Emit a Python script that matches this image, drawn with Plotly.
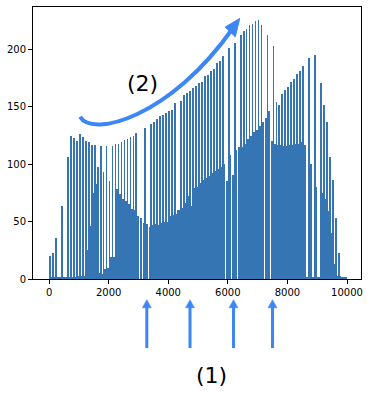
import plotly.graph_objects as go

# ---- data, one value per 100-unit period ----
period_start = list(range(0, 10000, 100))

tall = [20, 23, 36, 0, 64, 0, 106, 125, 123, 120,
        126, 124, 120, 119, 117, 117, 98, 116, 93, 116,
        85, 116, 118, 118, 119, 121, 122, 124, 125, 127,
        0, 0, 132, 0, 135, 137, 139, 142, 143, 145,
        146, 147, 153, 0, 155, 160, 162, 164, 166, 168,
        171, 172, 177, 178, 181, 183, 188, 190, 194, 0,
        201, 0, 206, 0, 213, 216, 218, 221, 222, 225,
        226, 221, 0, 213, 0, 203, 154, 152, 161, 165,
        167, 172, 174, 179, 181, 186, 0, 193, 0, 195,
        0, 171, 152, 137, 106, 86, 53, 23, 0, 0]

mid = [0, 0, 0, 0, 0, 0, 0, 0, 0, 0,
       0, 0, 25, 46, 75, 83, 5, 4, 9, 10,
       19, 19, 78, 74, 70, 68, 65, 61, 60, 55,
       53, 49, 48, 45, 47, 48, 47, 49, 50, 50,
       55, 56, 57, 60, 62, 66, 72, 64, 79, 80,
       84, 86, 88, 90, 92, 94, 96, 98, 100, 85,
       108, 91, 112, 115, 115, 118, 122, 125, 128, 130,
       133, 137, 140, 146, 120, 118, 117, 117, 116, 116,
       117, 117, 118, 118, 119, 117, 0, 100, 0, 80,
       0, 75, 70, 59, 40, 13, 3, 2, 2, 0]

base = [1, 2, 1, 1, 1, 1, 2, 2, 2, 3,
        3, 3, 3, 3, 4, 4, 5, 3, 2, 2,
        2, 14, 25, 21, 38, 30, 50, 37, 58, 47,
        0, 0, 0, 0, 0, 8, 12, 24, 38, 50,
        55, 56, 57, 60, 62, 0, 0, 0, 0, 73,
        73, 74, 74, 75, 75, 76, 77, 78, 79, 0,
        0, 0, 0, 0, 87, 88, 89, 91, 93, 95,
        98, 102, 0, 0, 0, 0, 112, 113, 74, 45,
        22, 8, 2, 2, 2, 1, 2, 2, 1, 2,
        2, 2, 2, 2, 2, 2, 3, 3, 2, 1]

x_ticks = [0, 2000, 4000, 6000, 8000, 10000]
y_ticks = [0, 50, 100, 150, 200]

label_top = "(2)"
label_bottom = "(1)"
arrow_marks = [3280, 4730, 6190, 7500]

BAR = "#3675b4"
ARROW = "#3d86f5"

fig = go.Figure()
fig.add_trace(go.Bar(x=[s + 50 for s in period_start], y=base, width=90,
                     marker=dict(color=BAR, line=dict(width=0)), hoverinfo="skip"))
fig.add_trace(go.Bar(x=[s + 80 for s in period_start], y=mid, width=26,
                     marker=dict(color=BAR, line=dict(width=0)), hoverinfo="skip"))
fig.add_trace(go.Bar(x=[s + 30 for s in period_start], y=tall, width=26,
                     marker=dict(color=BAR, line=dict(width=0)), hoverinfo="skip"))

shapes = []
# curved arrow (2)
shapes.append(dict(type="path", xref="x", yref="y",
                   path="M 1040,141.3 C 1443,123 4060,140.4 6174,218.7",
                   line=dict(color=ARROW, width=4)))
shapes.append(dict(type="path", xref="x", yref="y",
                   path="M 6400,227 L 6250,211 L 5910,219.5 Z",
                   fillcolor=ARROW, line=dict(color=ARROW, width=1)))
# straight arrows (1)
for ax in arrow_marks:
    shapes.append(dict(type="line", xref="x", yref="paper",
                       x0=ax, x1=ax, y0=-0.254, y1=-0.10,
                       line=dict(color=ARROW, width=3)))
    shapes.append(dict(type="path", xref="x", yref="paper",
                       path=f"M {ax-150},-0.106 L {ax+150},-0.106 L {ax},-0.076 Z",
                       fillcolor=ARROW, line=dict(color=ARROW, width=0.5)))

fig.update_layout(
    width=373, height=404,
    margin=dict(l=33, r=12, t=7, b=125),
    paper_bgcolor="white", plot_bgcolor="white",
    barmode="overlay", bargap=0, showlegend=False,
    shapes=shapes,
    font=dict(family="DejaVu Sans", size=10, color="black"),
    annotations=[
        dict(x=3120, y=170, xref="x", yref="y", text=label_top, showarrow=False,
             xanchor="center", yanchor="middle",
             font=dict(family="DejaVu Sans", size=22, color="black")),
        dict(x=5460, y=-0.353, xref="x", yref="paper", text=label_bottom, showarrow=False,
             xanchor="center", yanchor="middle",
             font=dict(family="DejaVu Sans", size=22, color="black")),
    ],
)
fig.update_xaxes(range=[-540, 10470], tickvals=x_ticks, ticktext=[str(v) for v in x_ticks],
                 showline=True, mirror=True, linecolor="black", linewidth=1,
                 ticks="outside", ticklen=4, tickwidth=1, tickcolor="black",
                 showgrid=False, zeroline=False)
fig.update_yaxes(range=[0, 237], tickvals=y_ticks, ticktext=[str(v) for v in y_ticks],
                 showline=True, mirror=True, linecolor="black", linewidth=1,
                 ticks="outside", ticklen=4, tickwidth=1, tickcolor="black",
                 showgrid=False, zeroline=False)

fig.write_html("out.html", config={"displayModeBar": False},
               post_script="document.body.style.margin='0';document.body.style.overflow='hidden';")
